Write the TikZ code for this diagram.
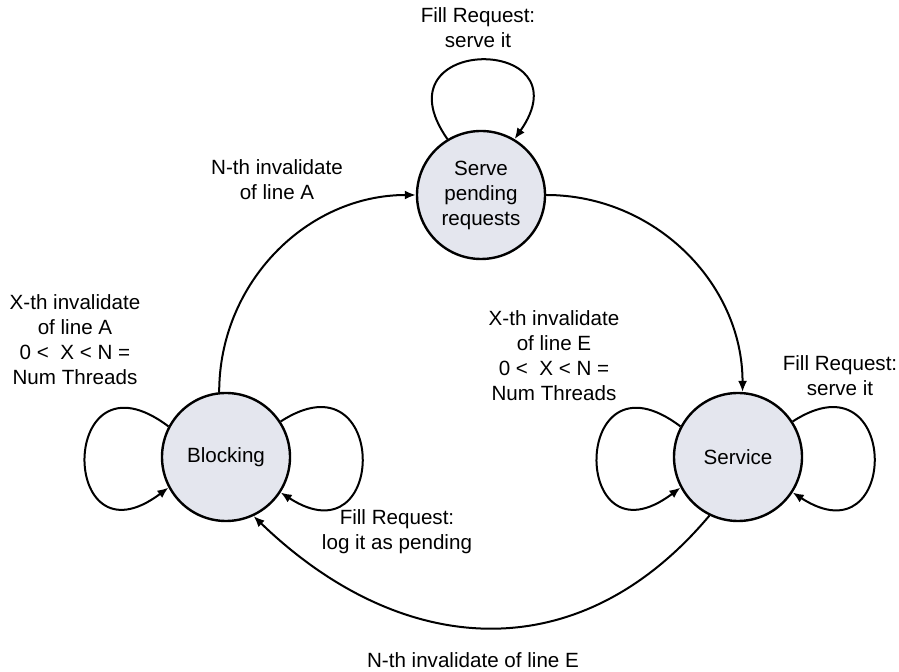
\documentclass[tikz,border=0pt]{standalone}
\usepackage{fontspec}
\setmainfont{Liberation Sans}
\usetikzlibrary{arrows.meta}
\definecolor{stategray}{RGB}{228,230,238}
\tikzstyle{Arrow} = [
line width=1pt,
-{Latex[length=5.5pt,width=4.5pt]}
]
\tikzstyle{State} = [
circle, draw, line width=1.2pt, fill=stategray,
minimum size=64pt, inner sep=0pt, align=center
]

\begin{document}
\begin{tikzpicture}[x=0.5pt, y=-0.5pt, font=\fontsize{10.3}{12.5}\selectfont]
            \useasboundingbox (0,0) rectangle (899,672);
            \node [State] (1) at (481,195) {Serve\\pending\\requests};
            \node [State] (2) at (226,457) {Blocking};
            \node [State] (3) at (738,457) {Service};

            \node [align=center] (4) at (478,28) {Fill Request:\\serve it};
            \node [align=center] (5) at (277,180) {N-th invalidate\\of line A};
            \node [align=center] (6) at (75,340) {X-th invalidate\\of line A\\0 <~ X < N =\\Num Threads};
            \node [align=center] (7) at (554,356) {X-th invalidate\\of line E\\0 <~ X < N =\\Num Threads};
            \node [align=center] (8) at (840,376) {Fill Request:\\serve it};
            \node [align=center] (9) at (397,532) {Fill Request:\\log it as pending};
            \node (10) at (473,660) {N-th invalidate of line E};

            % self loops
            \draw[Arrow] (1.121) to [out=125, in=55, looseness=4.9] (1.59);
            \draw[Arrow] (2.152) to [out=143, in=217, looseness=5.8] (2.208);
            \draw[Arrow] (2.33) to [out=33, in=327, looseness=4.65] (2.327);
            \draw[Arrow] (3.152) to [out=143, in=217, looseness=5.8] (3.208);
            \draw[Arrow] (3.33) to [out=33, in=327, looseness=4.65] (3.327);

            % transitions
            \draw[Arrow] (2.96) to [out=90, in=180] (1.west);
            \draw[Arrow] (1.east) to [out=0, in=90] (3.86);
            \draw[Arrow] (3.244) to [out=230, in=316, looseness=1.15] (2.295);
        \end{tikzpicture}
\end{document}
